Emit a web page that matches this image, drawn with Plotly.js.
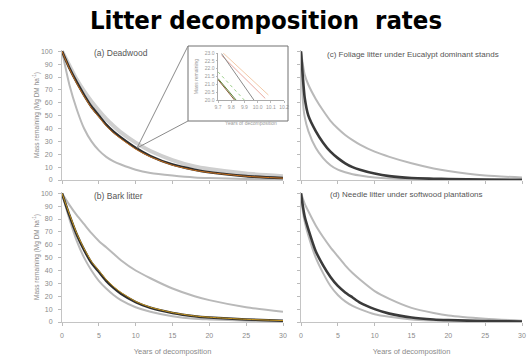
<!DOCTYPE html>
<html><head><meta charset="utf-8">
<script src="https://cdn.plot.ly/plotly-3.0.1.min.js"></script>
<style>html,body{margin:0;padding:0;background:#fff}#chart{width:532px;height:356px}</style>
</head><body><div id="chart"></div>
<script>
// ---- data ----
const yearsAB = [0,1,2,3,4,5,6,7,8,10,12,15,18,20,25,30];
const deadwoodUpper  = [100,89,78,69,61,54,47.5,42,37,29,22.5,15.5,10.5,8.5,5,3];
const deadwoodMean   = [100,87,76,66,57,50,43,37.5,33,25,18.6,12,8,6,3,1.5];
const deadwoodOrange = [100,86.5,75,65,56,49,42,36.5,32,24,18,11.5,7.5,5.8,2.9,1.4];
const deadwoodLower  = [100,74,55,40,30,23,18,14.5,12,8,5.5,3.5,2,1.5,0.8,0.4];

const barkUpper  = [100,91,83,76,69,63,58,53,48,40,34,26,20,17,11.5,8];
const barkMean   = [100,83,68,56,46,39,32,26.5,22,15.5,11,7,4.5,3.5,2,1];
const barkOrange = [100,84,69,57,47,40,33,27.5,23,16,11.5,7.3,4.7,3.7,2.1,1.1];
const barkLower  = [100,80,63,50,40,32,26,21,17,11.5,8,4.5,2.5,2,1,0.5];

const yearsCD = [0,0.25,0.5,1,2,3,4,5,6,7,8,10,12,15,18,20,25,30];
const foliageUpper = [100,90,82,74,63,54,46,40,35,31,27.5,22,18,13,9,7,3.5,2];
const foliageMean  = [100,80,64,50,38,29,22,17,13,10,8,5,3,1.5,1,0.7,0.3,0.2];
const foliageLower = [100,62,49,38,25,17,11.5,8,6,4.5,3.5,2,1.2,0.7,0.4,0.3,0.2,0.1];

const needleUpper = [100,96,92,86,75,66,58,51,44,38,33,24,18,11,7,5,2.5,1];
const needleMean  = [100,90,82,72,55,44,35,28,23,19,15,10,6.5,3.5,2,1.5,0.7,0.4];
const needleLower = [100,86,78,67,50,38,28,21,16,12.5,10,6,4,2,1.2,0.8,0.4,0.2];

// inset (zoom of deadwood curves near year 10)
const insetLineX = [[9.739,10.082],[9.727,10.058],[9.727,9.972],[9.70,9.899],[9.70,9.837],[9.70,9.825]];
const insetLineY = [[23.0,20.32],[22.85,20.1],[22.96,20.0],[21.8,20.0],[21.37,20.0],[21.3,20.0]];
const insetColors = ['#f2c9a8','#e8a8a0','#8a8a8a','#9ccf8a','#5a8a3a','#8a5a3a'];
const insetDash = ['solid','solid','solid','dot','solid','solid'];

const panelLabels = ['(a) Deadwood','(b) Bark litter','(c) Foliage litter under Eucalypt dominant stands','(d) Needle litter under softwood plantations'];

// ---- helpers ----
const GRAY = '#b9b9b9', BLACK = '#2e2e2e', ORANGE = '#c8701e';
function line(x, y, color, width, xa, ya, dash) {
  return {x: x, y: y, type: 'scatter', mode: 'lines', xaxis: xa, yaxis: ya,
    line: {color: color, width: width, shape: 'spline', smoothing: 0.6, dash: dash || 'solid'},
    hoverinfo: 'skip', showlegend: false};
}
const traces = [
  line(yearsAB, deadwoodLower, GRAY, 2, 'x', 'y'),
  line(yearsAB, deadwoodUpper, '#cfcfcf', 4, 'x', 'y'),
  line(yearsAB, deadwoodMean, BLACK, 2.6, 'x', 'y'),
  line(yearsAB, deadwoodOrange, ORANGE, 1, 'x', 'y'),

  line(yearsAB, barkUpper, GRAY, 2, 'x2', 'y2'),
  line(yearsAB, barkLower, GRAY, 2, 'x2', 'y2'),
  line(yearsAB, barkMean, BLACK, 2.6, 'x2', 'y2'),
  line(yearsAB, barkOrange, '#c8961e', 1, 'x2', 'y2'),

  line(yearsCD, foliageUpper, GRAY, 2, 'x3', 'y3'),
  line(yearsCD, foliageLower, GRAY, 2, 'x3', 'y3'),
  line(yearsCD, foliageMean, '#3a3a3a', 2.6, 'x3', 'y3'),

  line(yearsCD, needleUpper, GRAY, 2, 'x4', 'y4'),
  line(yearsCD, needleLower, GRAY, 2, 'x4', 'y4'),
  line(yearsCD, needleMean, '#3a3a3a', 2.6, 'x4', 'y4')
];
insetLineX.forEach((xs, i) => {
  traces.push({x: xs, y: insetLineY[i], type: 'scatter', mode: 'lines', xaxis: 'x5', yaxis: 'y5',
    line: {color: insetColors[i], width: 1, dash: insetDash[i]}, hoverinfo: 'skip', showlegend: false});
});

const W = 532, H = 356;
const px = v => v / W, py = v => 1 - v / H;
const FONT = 'Liberation Sans, Arial, sans-serif';
const tickFont = {family: FONT, size: 7, color: '#8a8a8a'};
function xAxis(dom, anchor, labels, title) {
  const ax = {domain: dom, anchor: anchor, range: [0, 30], tickvals: [0,5,10,15,20,25,30],
    showticklabels: labels, ticks: 'outside', ticklen: 3, tickcolor: '#bbb',
    showline: true, linecolor: '#c4c4c4', linewidth: 1, showgrid: false, zeroline: false,
    tickfont: tickFont, ticklabelstandoff: 4, fixedrange: true};
  if (title) ax.title = {text: title, font: {family: FONT, size: 7.5, color: '#8a8a8a'}};
  return ax;
}
function yAxis(dom, anchor, labels, title) {
  const ax = {domain: dom, anchor: anchor, range: [0, 101], tickvals: [0,10,20,30,40,50,60,70,80,90,100],
    showticklabels: labels, ticks: 'outside', ticklen: 3, tickcolor: '#bbb',
    showline: true, linecolor: '#c4c4c4', linewidth: 1, showgrid: false, zeroline: false,
    tickfont: tickFont, ticklabelstandoff: 4, fixedrange: true};
  if (title) ax.title = {text: title, font: {family: FONT, size: 6.5, color: '#8a8a8a'}};
  return ax;
}
const xL = [px(62), px(283)], xR = [px(301), px(522)];
const yT = [py(180), py(50)], yB = [py(322), py(192)];
const yTitle = 'Mass remaining (Mg DM ha<sup>-1</sup>)';
const insetFont = {family: FONT, size: 5, color: '#999'};

const layout = {
  width: W, height: H, margin: {l: 0, r: 0, t: 0, b: 0},
  paper_bgcolor: '#fff', plot_bgcolor: 'rgba(0,0,0,0)', showlegend: false,
  title: {text: 'Litter decomposition  rates', x: 0.5, xanchor: 'center', y: py(20), yanchor: 'middle', yref: 'container',
    font: {family: 'DejaVu Sans Condensed, DejaVu Sans, sans-serif', size: 25.5, weight: 900, color: '#000'}},
  xaxis: xAxis(xL, 'y', false),
  yaxis: yAxis(yT, 'x', true, yTitle),
  xaxis2: xAxis(xL, 'y2', true, 'Years of decomposition'),
  yaxis2: yAxis(yB, 'x2', true, yTitle),
  xaxis3: xAxis(xR, 'y3', false),
  yaxis3: yAxis(yT, 'x3', false),
  xaxis4: xAxis(xR, 'y4', true, 'Years of decomposition'),
  yaxis4: yAxis(yB, 'x4', false),
  xaxis5: {domain: [px(218), px(284)], anchor: 'y5', range: [9.7, 10.2], dtick: 0.1, tickformat: '.1f',
    tickfont: insetFont, ticks: 'outside', ticklen: 1.5, tickcolor: '#bbb',
    showline: true, linecolor: '#aaa', showgrid: false, zeroline: false, fixedrange: true,
    title: {text: 'Years of decomposition', font: insetFont}},
  yaxis5: {domain: [py(100), py(53)], anchor: 'x5', range: [20, 23], dtick: 0.5, tickformat: '.1f',
    tickfont: insetFont, ticks: 'outside', ticklen: 1.5, tickcolor: '#bbb',
    showline: true, linecolor: '#aaa', showgrid: false, zeroline: false, fixedrange: true,
    title: {text: 'Mass remaining', font: insetFont}},
  shapes: [
    {type: 'rect', xref: 'paper', yref: 'paper', x0: px(188), x1: px(288), y0: py(121), y1: py(46),
      line: {color: '#707070', width: 1}, fillcolor: 'rgba(255,255,255,0)'},
    {type: 'line', xref: 'paper', yref: 'paper', x0: px(137), y0: py(148), x1: px(188), y1: py(46), line: {color: '#8a8a8a', width: 1}},
    {type: 'line', xref: 'paper', yref: 'paper', x0: px(137), y0: py(148), x1: px(188), y1: py(121), line: {color: '#8a8a8a', width: 1}}
  ],
  annotations: [
    {text: panelLabels[0], xref: 'paper', yref: 'paper', x: px(121), y: py(53), xanchor: 'center', yanchor: 'middle', showarrow: false,
      font: {family: FONT, size: 8.5, color: '#555'}},
    {text: panelLabels[1], xref: 'paper', yref: 'paper', x: px(118), y: py(196), xanchor: 'center', yanchor: 'middle', showarrow: false,
      font: {family: FONT, size: 8.5, color: '#555'}},
    {text: panelLabels[2], xref: 'paper', yref: 'paper', x: px(325), y: py(54), xanchor: 'left', yanchor: 'middle', showarrow: false,
      font: {family: FONT, size: 8, color: '#555'}},
    {text: panelLabels[3], xref: 'paper', yref: 'paper', x: px(328), y: py(195), xanchor: 'left', yanchor: 'middle', showarrow: false,
      font: {family: FONT, size: 8, color: '#555'}}
  ]
};
Plotly.newPlot('chart', traces, layout, {staticPlot: true, displayModeBar: false}).then(gd => {
  // drop empty placeholder text nodes left by the library
  gd.querySelectorAll('text').forEach(t => { if (!t.textContent.trim()) t.remove(); });
});
</script></body></html>
